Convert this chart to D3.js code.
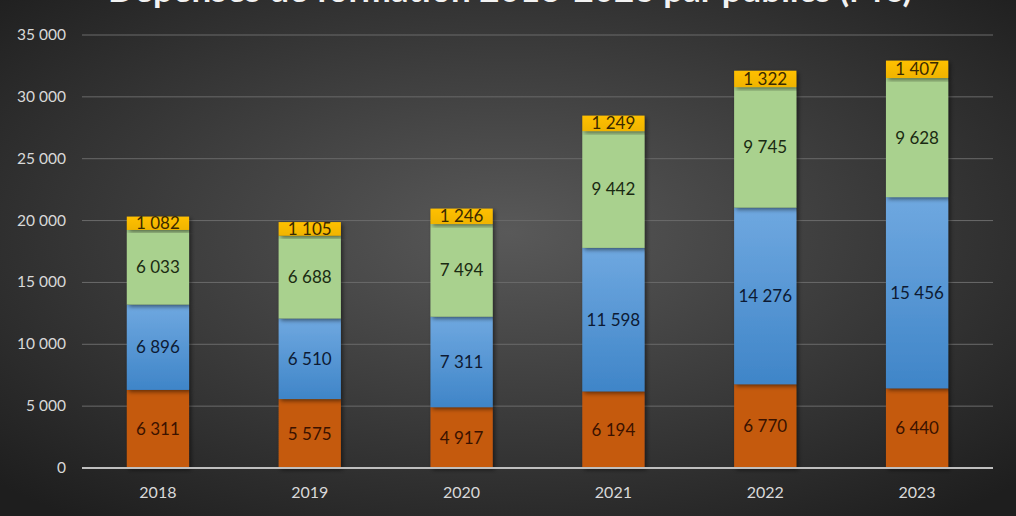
<!DOCTYPE html>
<html><head><meta charset="utf-8">
<script src="https://cdn.jsdelivr.net/npm/d3@7"></script>
<style>body{margin:0;overflow:hidden;background:#333}</style>
</head><body>
<svg id="c" width="1016" height="516"></svg>
<script>
const years = ["2018","2019","2020","2021","2022","2023"];
const seriesNames = ["s1","s2","s3","s4"];
const s1 = [6311,5575,4917,6194,6770,6440];
const s2 = [6896,6510,7311,11598,14276,15456];
const s3 = [6033,6688,7494,9442,9745,9628];
const s4 = [1082,1105,1246,1249,1322,1407];
const yTicks = [0,5000,10000,15000,20000,25000,30000,35000];
const title = "Dépenses de formation 2018-2023 par publics (M€)";

const svg = d3.select("#c");
const defs = svg.append("defs");
const bg = defs.append("radialGradient").attr("id","bg").attr("cx","50%").attr("cy","45%").attr("r","70%");
bg.append("stop").attr("offset","0%").attr("stop-color","#595959");
bg.append("stop").attr("offset","100%").attr("stop-color","#1e1e1e");
svg.append("rect").attr("width",1016).attr("height",516).attr("fill","url(#bg)");

const grads = [
  ["#c55a11","#c55a11"],
  ["#6fa8e0","#3f85c8"],
  ["#a9d18e","#a9d18e"],
  ["#ffc000","#f0b400"]
];
grads.forEach((g,i)=>{
  const lg = defs.append("linearGradient").attr("id","g"+i).attr("x1",0).attr("y1",0).attr("x2",0).attr("y2",1);
  lg.append("stop").attr("offset","0%").attr("stop-color",g[0]);
  lg.append("stop").attr("offset","100%").attr("stop-color",g[1]);
});
const sh = defs.append("filter").attr("id","sh").attr("x","-20%").attr("y","-20%").attr("width","140%").attr("height","140%");
sh.append("feDropShadow").attr("dx",2).attr("dy",2).attr("stdDeviation",2).attr("flood-color","#000").attr("flood-opacity",0.5);

const x = d3.scaleBand().domain(years).range([82,993]).paddingInner(0.59).paddingOuter(0.295);
const y = d3.scaleLinear().domain([0,35000]).range([468,35]);

// title (cut off at top, as in the reference)
svg.append("text").attr("x",510).attr("y",1.5).attr("text-anchor","middle")
  .attr("font-family","Lato, 'Open Sans', sans-serif").attr("font-size",35).attr("font-weight","bold")
  .attr("fill","#f2f2f2").text(title);

// grid
svg.append("g").selectAll("line").data(yTicks.slice(1)).join("line")
  .attr("x1",82).attr("x2",993).attr("y1",d=>y(d)).attr("y2",d=>y(d))
  .attr("stroke","#6a6a6a").attr("stroke-width",1);

// y axis labels
const fmtL = v => d3.format(",")(v).replace(/,/g," ");
svg.append("g").selectAll("text").data(yTicks).join("text")
  .attr("x",66).attr("y",d=>y(d)+5).attr("text-anchor","end")
  .attr("font-family","Lato, 'Open Sans', sans-serif").attr("font-size",15.5)
  .attr("fill","#d9d9d9").text(d=>fmtL(d));

// stacked data
const data = years.map((yr,i)=>({year:yr,s1:s1[i],s2:s2[i],s3:s3[i],s4:s4[i]}));
const stack = d3.stack().keys(seriesNames)(data);

const layers = svg.append("g").selectAll("g").data(stack).join("g");
layers.selectAll("rect").data((d,si)=>d.map(p=>({p,si}))).join("rect")
  .attr("x",d=>x(d.p.data.year)).attr("width",x.bandwidth())
  .attr("y",d=>y(d.p[1])).attr("height",d=>y(d.p[0])-y(d.p[1]))
  .attr("fill",d=>"url(#g"+d.si+")").attr("filter","url(#sh)");

// labels
layers.selectAll("text").data((d,si)=>d.map(p=>({p,si}))).join("text")
  .attr("x",d=>x(d.p.data.year)+x.bandwidth()/2)
  .attr("y",d=>(y(d.p[0])+y(d.p[1]))/2+6)
  .attr("text-anchor","middle")
  .attr("font-family","Lato, 'Open Sans', sans-serif").attr("font-size",17)
  .attr("fill",d=>d.si===0?"#3a1200":(d.si===1?"#0d1a33":(d.si===2?"#1a2a12":"#3a2a00")))
  .text(d=>fmtL(d.p[1]-d.p[0]));

// baseline
svg.append("line").attr("x1",82).attr("x2",993).attr("y1",y(0)).attr("y2",y(0))
  .attr("stroke","#bfbfbf").attr("stroke-width",2);

// x labels
svg.append("g").selectAll("text").data(years).join("text")
  .attr("x",d=>x(d)+x.bandwidth()/2).attr("y",498).attr("text-anchor","middle")
  .attr("font-family","Lato, 'Open Sans', sans-serif").attr("font-size",16)
  .attr("fill","#d9d9d9").text(d=>d);
</script>
</body></html>
